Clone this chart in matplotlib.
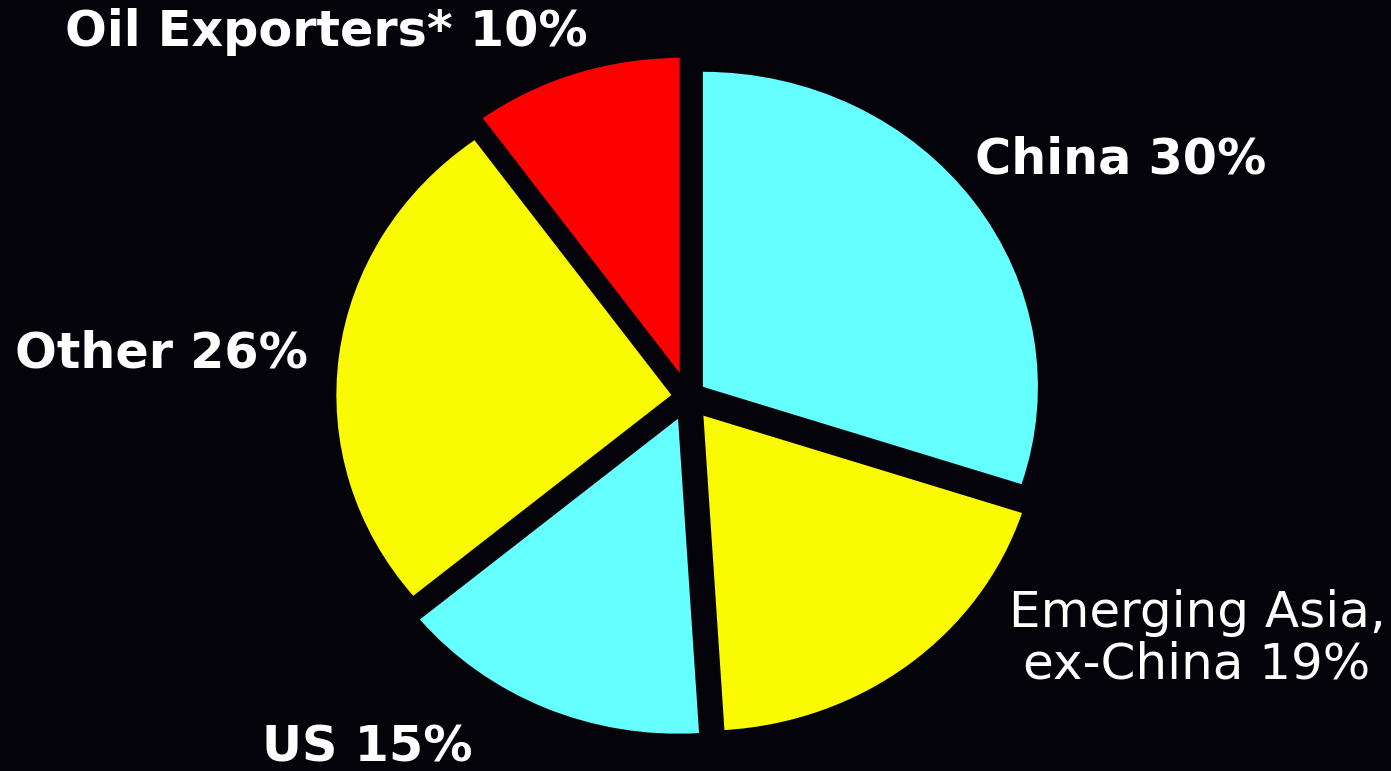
import matplotlib.pyplot as plt

# Shares of the total, clockwise from 12 o'clock
regions = ["China", "Emerging Asia,\nex-China", "US", "Other", "Oil Exporters*"]
shares = [30, 19, 15, 26, 10]
colors = ["#66FFFF", "#FAFA00", "#66FFFF", "#FAFA00", "#FF0000"]
explode = [0.055, 0.075, 0.075, 0.05, 0.08]

BG = "#05030A"
W, H = 1391, 771
CX, CY = 688, 397      # pie centre in pixels (from top-left)
RX, RY = 335, 315      # the pie is slightly stretched horizontally


def px(x, y):
    """Pixel position (from top-left) to figure fraction."""
    return x / W, 1 - y / H


def main() -> None:
    fig = plt.figure(figsize=(W / 100, H / 100), dpi=100, facecolor=BG)
    ax = fig.add_axes([0, 0, 1, 1])
    ax.set_facecolor(BG)

    ax.pie(shares, colors=colors, explode=explode, startangle=90,
           counterclock=False, wedgeprops=dict(linewidth=0))
    ax.set_aspect("auto")
    ax.set_xlim(-CX / RX, (W - CX) / RX)
    ax.set_ylim((CY - H) / RY, CY / RY)
    ax.axis("off")

    bold = dict(color="white", fontsize=35.5, fontweight="bold",
                family="DejaVu Sans", va="center")
    fig.text(*px(65, 32), f"{regions[4]} {shares[4]}%", ha="left", **bold)
    fig.text(*px(975, 160), f"{regions[0]} {shares[0]}%", ha="left", **bold)
    fig.text(*px(15, 354), f"{regions[3]} {shares[3]}%", ha="left", **bold)
    fig.text(*px(262, 748), f"{regions[2]} {shares[2]}%", ha="left", **bold)
    fig.text(*px(1197, 639), f"{regions[1]} {shares[1]}%", ha="center",
             va="center", color="white", fontsize=36, family="DejaVu Sans",
             linespacing=1.08, multialignment="center")

    fig.savefig("out.png", dpi=100, facecolor=BG)


if __name__ == "__main__":
    main()
